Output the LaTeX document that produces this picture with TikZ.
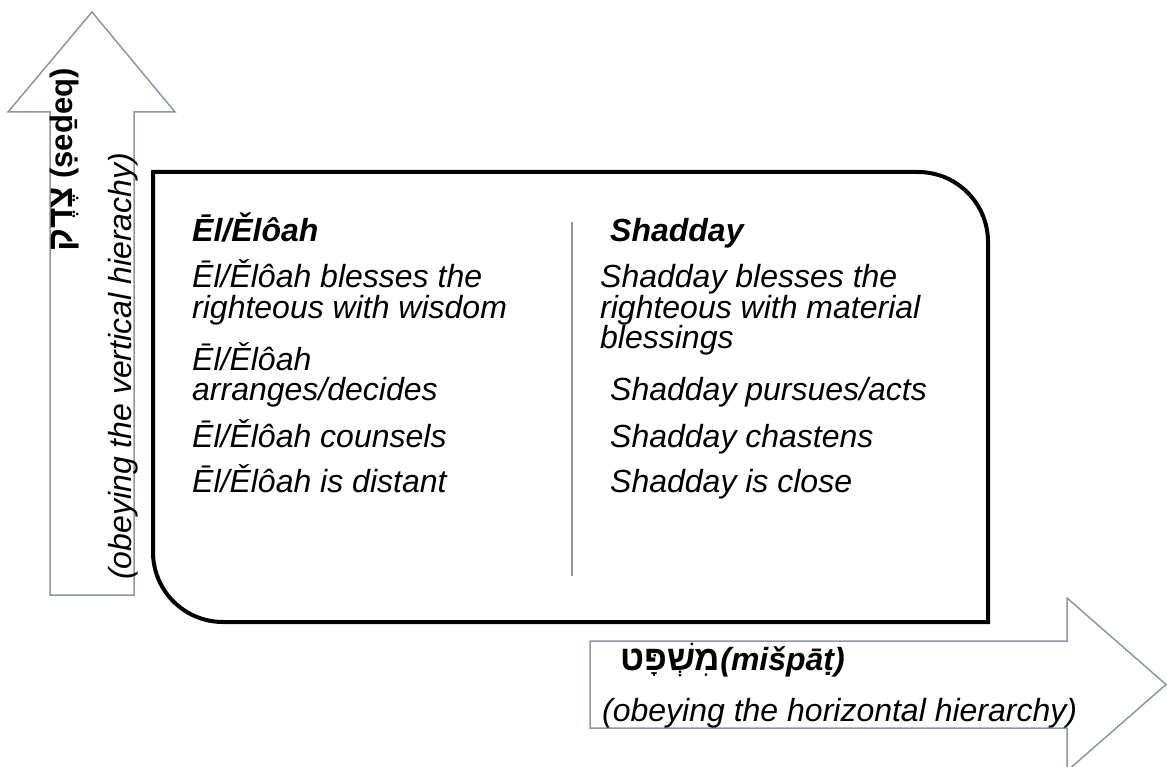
\documentclass[tikz,border=0pt]{standalone}
\usepackage{fontspec}
\setmainfont{Liberation Sans}
\newfontfamily\hebfont[Script=Hebrew]{Liberation Sans}
\TeXXeTstate=1
\definecolor{arrowline}{RGB}{140,150,166}
\tikzset{
  txt/.style={font=\fontsize{32}{30}\selectfont\itshape, inner sep=0pt, anchor=base west},
  hdr/.style={font=\fontsize{32}{30}\selectfont\bfseries\itshape, inner sep=0pt, anchor=base west},
  arrowshape/.style={draw=arrowline, line width=1.5pt, fill=white, line join=miter},
  mainbox/.style={draw=black, line width=4pt},
  divider/.style={draw=arrowline, line width=1.5pt}
}
\begin{document}
\begin{tikzpicture}[x=1pt,y=-1pt]
\useasboundingbox (0,0) rectangle (1167,767);
\fill[white] (0,0) rectangle (1167,767);
% vertical arrow
\draw[arrowshape] (50,595) -- (50,112) -- (8,112) -- (92,12) -- (175,112) -- (134,112) -- (134,595) -- cycle;
% horizontal arrow
\draw[arrowshape] (590,641) -- (1067,641) -- (1067,598) -- (1166,684.5) -- (1067,771) -- (1067,728) -- (590,728) -- cycle;
% main box
\draw[mainbox] (153,172) -- (918,172) .. controls (956.7,172) and (988,203.3) .. (988,242) -- (988,622) -- (223,622) .. controls (184.3,622) and (153,590.7) .. (153,552) -- cycle;
% divider
\coordinate (dtop) at (572,222);
\coordinate (dbot) at (572,576);
\draw[divider] (dtop) -- (dbot);
% left column
\node[hdr] (lh) at (192,242) {Ēl/Ělôah};
\node[txt] (l1a) at (192,288) {Ēl/Ělôah blesses the};
\node[txt] (l1b) at (192,318) {righteous with wisdom};
\node[txt] (l2a) at (192,370) {Ēl/Ělôah};
\node[txt] (l2b) at (192,400) {arranges/decides};
\node[txt] (l3) at (192,447) {Ēl/Ělôah counsels};
\node[txt] (l4) at (192,492) {Ēl/Ělôah is distant};
% right column
\node[hdr] (rh) at (610,242) {Shadday};
\node[txt] (r1a) at (600,288) {Shadday blesses the};
\node[txt] (r1b) at (600,318) {righteous with material};
\node[txt] (r1c) at (600,348) {blessings};
\node[txt] (r2) at (610,400) {Shadday pursues/acts};
\node[txt] (r3) at (610,447) {Shadday chastens};
\node[txt] (r4) at (610,492) {Shadday is close};
% vertical arrow labels
\node[font=\fontsize{31}{30}\selectfont\bfseries, inner sep=0pt, anchor=base west, rotate=90] (vtitle) at (72,252) {{\hebfont\fontsize{35}{30}\selectfont\beginR צֶדֶק\endR}\ (ṣeḏeq)};
\node[txt, rotate=90] (vsub) at (131,580) {(obeying the vertical hierachy)};
% horizontal arrow labels
\node[hdr] (htitle) at (620,670) {{\hebfont\upshape\fontsize{35}{30}\selectfont\beginR מִשְׁפָּט\endR}(mišpāṭ)};
\node[txt] (hsub) at (602,721) {(obeying the horizontal hierarchy)};
\end{tikzpicture}
\end{document}
